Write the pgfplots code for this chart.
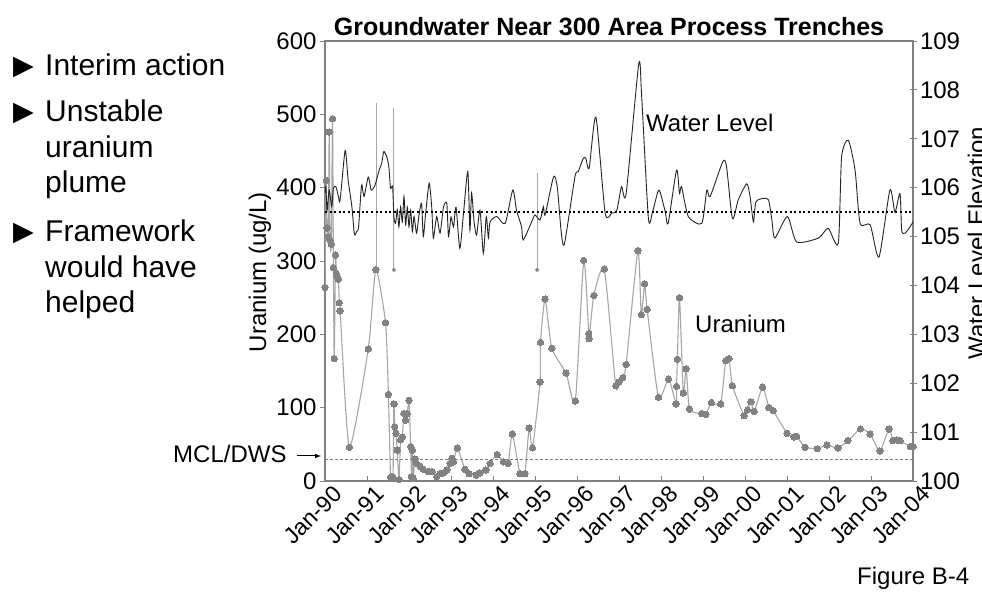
\documentclass[border=0pt]{standalone}
\usepackage{pgfplots}
\pgfplotsset{compat=1.18}
\usepackage{fontspec}
\setmainfont{Liberation Sans}
\newfontfamily\dejavu{DejaVu Sans}

\definecolor{axgray}{RGB}{128,128,128}
\definecolor{ulinec}{RGB}{165,165,165}
\definecolor{umark}{RGB}{130,130,130}
\definecolor{wline}{RGB}{35,35,35}

\pgfplotstableread{
year u
1990.00 264
1990.03 410
1990.05 345
1990.08 333
1990.10 476
1990.12 328
1990.15 323
1990.18 494
1990.20 291
1990.22 167
1990.25 308
1990.27 283
1990.29 279
1990.32 275
1990.34 243
1990.36 232
1990.58 46
1991.03 180
1991.21 288
1991.44 216
1991.51 118
1991.56 5
1991.59 6
1991.62 4
1991.64 105
1991.66 74
1991.69 65
1991.72 42
1991.76 2
1991.80 56
1991.84 60
1991.88 92
1991.92 83
1991.96 92
1992.00 110
1992.04 47
1992.06 6
1992.08 42
1992.10 4
1992.14 30
1992.18 24
1992.26 20
1992.34 16
1992.46 13
1992.55 13
1992.66 6
1992.74 10
1992.82 11
1992.90 15
1992.98 24
1993.02 31
1993.06 26
1993.15 45
1993.33 16
1993.43 10
1993.60 8
1993.69 11
1993.83 15
1993.93 24
1994.10 36
1994.25 26
1994.36 24
1994.46 64
1994.64 10
1994.76 10
1994.86 72
1994.94 45
1995.12 135
1995.13 189
1995.24 248
1995.40 181
1995.74 147
1995.96 109
1996.16 301
1996.28 201
1996.29 194
1996.40 253
1996.65 289
1996.92 130
1997.00 135
1997.09 141
1997.17 159
1997.45 314
1997.53 227
1997.61 269
1997.67 234
1997.94 114
1998.18 139
1998.36 105
1998.37 129
1998.39 166
1998.44 250
1998.53 120
1998.60 153
1998.68 98
1998.97 92
1999.07 91
1999.20 107
1999.42 105
1999.54 164
1999.62 167
1999.70 130
1999.98 89
2000.06 97
2000.14 108
2000.22 95
2000.42 128
2000.57 100
2000.67 96
2001.00 65
2001.17 60
2001.23 61
2001.43 46
2001.72 44
2001.95 49
2002.21 45
2002.45 55
2002.75 71
2002.98 64
2003.21 41
2003.43 71
2003.52 55
2003.61 56
2003.69 55
2003.94 47
2004.00 47
}\uranium

\pgfplotstableread{
year w
1990.00 105.90
1990.02 106.02
1990.05 105.54
1990.10 105.95
1990.16 105.61
1990.20 105.99
1990.26 106.02
1990.32 105.82
1990.36 105.75
1990.48 106.76
1990.55 106.16
1990.64 105.61
1990.70 105.05
1990.75 105.10
1990.80 105.20
1990.87 106.05
1990.93 105.82
1991.03 106.22
1991.10 105.95
1991.19 106.05
1991.29 106.36
1991.35 106.50
1991.40 106.74
1991.47 106.63
1991.52 106.43
1991.56 105.99
1991.61 106.02
1991.64 105.41
1991.68 105.27
1991.72 105.55
1991.76 105.20
1991.80 105.61
1991.84 105.30
1991.88 105.82
1991.92 105.24
1991.96 105.60
1992.00 105.20
1992.04 105.54
1992.08 105.10
1992.12 105.41
1992.18 105.07
1992.24 105.45
1992.30 105.68
1992.34 105.00
1992.40 105.50
1992.48 106.09
1992.54 105.61
1992.58 104.97
1992.66 105.41
1992.74 105.07
1992.82 105.60
1992.90 105.68
1992.94 105.00
1993.00 105.40
1993.06 105.20
1993.12 105.60
1993.21 104.76
1993.30 105.50
1993.40 106.33
1993.45 105.13
1993.49 105.89
1993.55 105.30
1993.61 105.03
1993.69 105.54
1993.77 104.66
1993.84 105.41
1993.89 104.97
1993.93 105.30
1994.09 105.41
1994.29 105.27
1994.47 105.95
1994.56 105.54
1994.68 105.20
1994.72 104.93
1994.92 105.30
1995.00 105.44
1995.12 105.34
1995.20 105.61
1995.24 105.44
1995.44 106.22
1995.53 106.02
1995.62 105.13
1995.70 104.85
1995.95 106.22
1996.03 106.33
1996.15 106.60
1996.21 106.60
1996.29 106.40
1996.45 107.44
1996.67 105.48
1996.83 105.48
1996.95 105.54
1997.06 106.02
1997.17 105.88
1997.47 108.53
1997.54 107.86
1997.70 105.37
1997.80 105.51
1997.95 105.95
1998.10 105.51
1998.17 105.27
1998.37 106.36
1998.44 105.88
1998.49 106.02
1998.65 105.41
1998.97 105.27
1999.09 105.95
1999.17 105.82
1999.47 106.53
1999.56 106.43
1999.70 105.37
1999.84 105.75
2000.04 106.08
2000.12 105.82
2000.20 105.30
2000.26 105.71
2000.44 105.78
2000.56 105.75
2000.64 105.34
2000.71 104.97
2001.01 105.41
2001.23 104.89
2001.75 104.97
2001.98 105.17
2002.22 104.86
2002.30 106.63
2002.46 106.97
2002.62 106.36
2002.74 105.27
2002.98 105.24
2003.19 104.58
2003.45 105.95
2003.57 105.50
2003.69 105.88
2003.73 105.13
2003.81 105.07
2003.93 105.20
2004.00 105.30
}\water

\begin{document}
\begin{tikzpicture}[x=1pt,y=1pt]
\path[use as bounding box] (0,0) rectangle (982,604);

\begin{axis}[
  at={(325pt,123pt)}, anchor=south west,
  scale only axis, width=588pt, height=440pt,
  xmin=1990, xmax=2004, ymin=0, ymax=600,
  axis line style={axgray, line width=1.3pt},
  xtick={1990,1991,...,2004},
  xticklabels={Jan-90,Jan-91,Jan-92,Jan-93,Jan-94,Jan-95,Jan-96,Jan-97,Jan-98,Jan-99,Jan-00,Jan-01,Jan-02,Jan-03,Jan-04},
  ytick={0,100,...,600},
  xtick pos=bottom, ytick pos=left,
  xtick align=inside, ytick align=outside,
  major tick length=5pt,
  tick style={axgray, line width=0.8pt},
  /pgf/number format/assume math mode=true,
  yticklabel style={font=\fontsize{24}{24}\selectfont},
  xticklabel style={font=\fontsize{23}{23}\selectfont, rotate=45, anchor=north east, xshift=6pt, yshift=-4pt},
  clip=true,
]
\addplot[ulinec, line width=1.1pt, smooth, tension=0.35,
  mark=*, mark size=3.2pt, mark options={fill=umark, draw=umark, line width=0pt}]
  table[x=year, y=u] {\uranium};
\addplot[ulinec, line width=1.3pt]
  coordinates {(1991.22,515) (1991.22,288)};
\addplot[ulinec, line width=0.9pt, mark=*, mark size=1.5pt, mark options={fill=umark, draw=umark}, mark indices={2}]
  coordinates {(1991.64,509) (1991.64,288)};
\addplot[ulinec, line width=0.9pt, mark=*, mark size=1.5pt, mark options={fill=umark, draw=umark}, mark indices={2}]
  coordinates {(1995.05,420) (1995.05,288)};
\addplot[axgray, line width=0.8pt, dash pattern=on 2.5pt off 2.5pt]
  coordinates {(1990,30) (2004,30)};
\end{axis}

\begin{axis}[
  at={(325pt,123pt)}, anchor=south west,
  scale only axis, width=588pt, height=440pt,
  xmin=1990, xmax=2004, ymin=100, ymax=109,
  axis x line=none,
  axis y line*=right,
  axis line style={axgray, line width=1.3pt},
  ytick={100,101,...,109},
  tick align=center,
  major tick length=7pt,
  tick style={axgray, line width=0.8pt},
  /pgf/number format/assume math mode=true,
  /pgf/number format/1000 sep={},
  yticklabel style={font=\fontsize{24}{24}\selectfont},
]
\addplot[wline, line width=0.9pt, smooth, tension=0.4] table[x=year, y=w] {\water};
\addplot[black, line width=1.8pt, dash pattern=on 2pt off 2.6pt]
  coordinates {(1990,105.5) (2004,105.5)};
\end{axis}

% title and labels
\node[anchor=base, font=\bfseries\fontsize{25}{25}\selectfont] at (609,568) {Groundwater Near 300 Area Process Trenches};
\node[anchor=base, rotate=90, font=\fontsize{24}{24}\selectfont] at (266,332) {Uranium (ug/L)};
\node[anchor=base, rotate=90, font=\fontsize{24}{24}\selectfont] at (985,361) {Water Level Elevation};
\node[anchor=base west, inner sep=0pt, font=\fontsize{24}{24}\selectfont] at (646,472) {Water Level};
\node[anchor=base west, inner sep=0pt, font=\fontsize{24}{24}\selectfont] at (695,271) {Uranium};
\node[anchor=base west, inner sep=0pt, font=\fontsize{24}{24}\selectfont] at (173,141) {MCL/DWS};
\draw[-latex, line width=1pt] (297,148) -- (321,148);
\node[anchor=base west, inner sep=0pt, font=\fontsize{24}{24}\selectfont] at (857,19) {Figure B-4};

% bullets
\begin{scope}[every node/.style={anchor=base west, inner sep=0pt, font=\fontsize{30}{30}\selectfont}]
\node at (45,528) {Interim action};
\node at (45,482) {Unstable};
\node at (45,446) {uranium};
\node at (45,411) {plume};
\node at (45,362) {Framework};
\node at (45,326) {would have};
\node at (45,291) {helped};
\end{scope}
\begin{scope}[every node/.style={anchor=base west, inner sep=0pt, font=\dejavu\fontsize{27}{27}\selectfont}]
\node at (13,529) {▶};
\node at (13,483) {▶};
\node at (13,363) {▶};
\end{scope}
\end{tikzpicture}
\end{document}
